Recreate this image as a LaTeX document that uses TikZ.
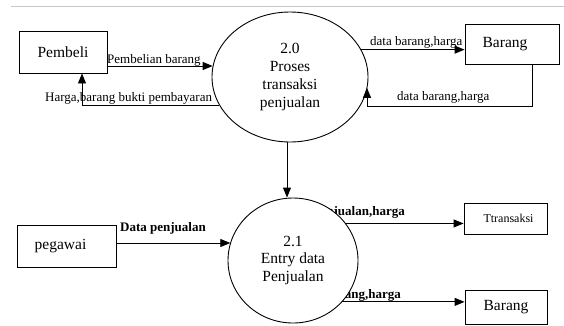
\documentclass[tikz,border=0pt]{standalone}
\usepackage{fontspec}
\setmainfont{Liberation Serif}
\usetikzlibrary{arrows.meta,shapes.geometric,backgrounds}
\begin{document}
\begin{tikzpicture}[x=1pt,y=-1pt,
  box/.style={draw,line width=0.9pt,inner sep=0pt,font=\fontsize{15.5}{18}\selectfont},
  proc/.style={draw,ellipse,line width=0.9pt,fill=white,inner sep=0pt,align=center,font=\fontsize{15.5}{17.7}\selectfont},
  arr/.style={line width=0.9pt,-{Triangle[length=10pt,width=8pt]}},
  lbl/.style={inner sep=0pt,font=\fontsize{13}{15}\selectfont},
  blbl/.style={inner sep=0pt,font=\bfseries\fontsize{13}{15}\selectfont},
  rule/.style={draw=black!22,line width=1.6pt}]
\useasboundingbox (0,0) rectangle (564,325);
\draw[rule] (11,6.5) -- (564,6.5);

\node[box,minimum width=88pt,minimum height=42pt] (pembeli) at (63,52) {Pembeli};
\node[proc,minimum width=156pt,minimum height=130pt] (p20) at (290,77) {2.0\\Proses\\transaksi\\penjualan};
\node[box,minimum width=94pt,minimum height=40pt] (barang1) at (512,44) {\hspace*{-14pt}Barang};
\node[box,minimum width=99pt,minimum height=42pt] (pegawai) at (66.5,246) {\hspace*{-12pt}pegawai};
\node[proc,minimum width=130pt,minimum height=125pt] (p21) at (293,260.5) {2.1\\Entry data\\Penjualan};
\node[box,minimum width=83pt,minimum height=31pt,font=\fontsize{12}{14}\selectfont] (trans) at (505.5,218.5) {\hspace*{6pt}Ttransaksi};
\node[box,minimum width=82pt,minimum height=34pt] (barang2) at (506,307) {Barang};

% connectors
\draw[arr] ([yshift=-14pt]pembeli.east) -- ([yshift=-14pt]pembeli.east -| p20.172);
\draw[arr] (p20.202) -| ([xshift=19pt]pembeli.south);
\draw[arr] (p20.21) -- (p20.21 -| barang1.west);
\coordinate (r1) at (367,106);
\draw[arr] ([xshift=20pt]barang1.south) |- (r1) -- (r1 |- p20.352);
\draw[arr] ([xshift=-3pt]p20.south) -- ([xshift=-3pt]p20.south |- p21.north);
\draw[arr] ([yshift=3pt]pegawai.east) -- ([yshift=3pt]pegawai.east -| p21.164);
\draw[arr] (p21.35) -- (p21.35 -| trans.west);
\draw[arr] (p21.320) -- (p21.320 -| barang2.west);

% labels
\node[lbl,anchor=base west] (l1) at (107,63) {Pembelian barang};
\node[lbl,anchor=base west] (l2) at (45,101) {Harga,barang bukti pembayaran};
\node[lbl,anchor=base west] (l3) at (370,45) {data barang,harga};
\node[lbl,anchor=base west] (l4) at (397,100) {data barang,harga};
\node[blbl,anchor=base west] (l5) at (120,231.5) {Data penjualan};
\begin{pgfonlayer}{background}
\node[blbl,anchor=base east] (l6) at (405,215.5) {Data penjualan,harga};
\node[blbl,anchor=base east] (l7) at (401,298) {Data barang,harga};
\end{pgfonlayer}
\end{tikzpicture}
\end{document}
